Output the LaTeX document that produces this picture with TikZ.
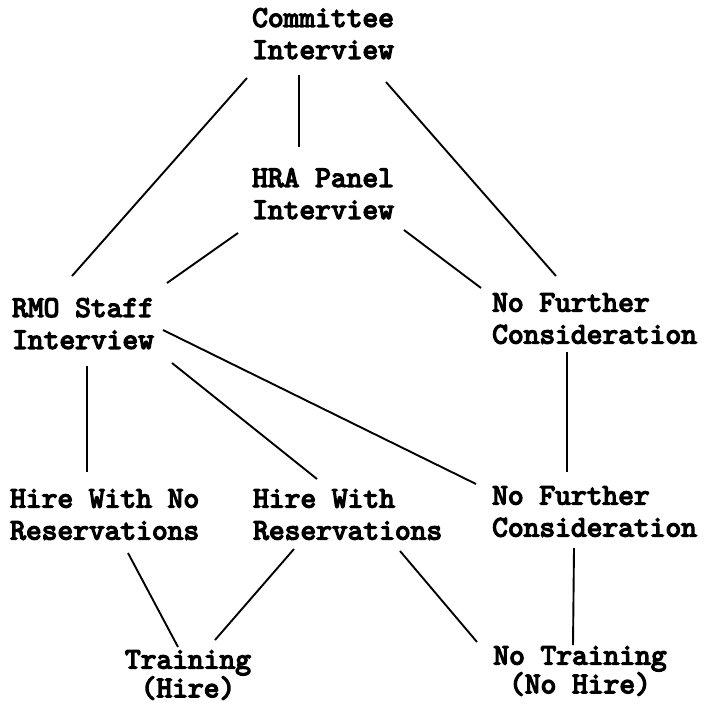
\documentclass[tikz,border=0pt]{standalone}
\usepackage{fontspec}
\usepackage{tikz}
\newfontfamily\typer{lmmono10-regular.otf}[FakeBold=4.5]

\begin{document}
\begin{tikzpicture}[
        x=1pt, y=-1pt,
        every node/.style={inner sep=0pt, font=\fontsize{30}{32}\selectfont\typer},
        stage/.style={anchor=north west, align=left},
        result/.style={anchor=north, align=center, font=\fontsize{30}{26}\selectfont\typer},
        link/.style={line width=1.9pt}
    ]
        \useasboundingbox (0,0) rectangle (707,712);

        \node[stage] (cmte) at (252,8) {Committee\\Interview};
        \node[stage] (hra) at (252,168) {HRA Panel\\Interview};
        \node[stage] (rmo) at (12,298) {RMO Staff\\Interview};
        \node[stage] (nfc1) at (492,293) {No Further\\Consideration};
        \node[stage] (hwn) at (10,489) {Hire With No\\Reservations};
        \node[stage] (hwr) at (253,489) {Hire With\\Reservations};
        \node[stage] (nfc2) at (492,486) {No Further\\Consideration};
        \node[result] (train) at (188,650) {Training\\(Hire)};
        \node[result] (notrain) at (580,646) {No Training\\(No Hire)};

        \draw[link] ([xshift=-5pt,yshift=-70pt]cmte.north west) -- ([xshift=60pt,yshift=22pt]rmo.north west);
        \draw[link] ([xshift=47pt,yshift=-67pt]cmte.north west) -- ([xshift=47pt,yshift=21pt]hra.north west);
        \draw[link] ([xshift=134pt,yshift=-74pt]cmte.north west) -- ([xshift=64pt,yshift=17pt]nfc1.north west);
        \draw[link] ([xshift=-14pt,yshift=-65pt]hra.north west) -- ([xshift=155pt,yshift=15pt]rmo.north west);
        \draw[link] ([xshift=152pt,yshift=-62pt]hra.north west) -- ([xshift=-11pt,yshift=5pt]nfc1.north west);
        \draw[link] ([xshift=75pt,yshift=-68pt]rmo.north west) -- ([xshift=77pt,yshift=17pt]hwn.north west);
        \draw[link] ([xshift=160pt,yshift=-65pt]rmo.north west) -- ([xshift=64pt,yshift=10pt]hwr.north west);
        \draw[link] ([xshift=151pt,yshift=-32pt]rmo.north west) -- ([xshift=-16pt,yshift=2pt]nfc2.north west);
        \draw[link] ([xshift=75pt,yshift=-59pt]nfc1.north west) -- ([xshift=75pt,yshift=14pt]nfc2.north west);
        \draw[link] ([xshift=118pt,yshift=-64pt]hwn.north west) -- ([xshift=-10pt,yshift=3pt]train.north);
        \draw[link] ([xshift=41pt,yshift=-60pt]hwr.north west) -- ([xshift=27pt,yshift=10pt]train.north);
        \draw[link] ([xshift=147pt,yshift=-62pt]hwr.north west) -- ([xshift=-103pt,yshift=4pt]notrain.north);
        \draw[link] ([xshift=82pt,yshift=-62pt]nfc2.north west) -- ([xshift=-7pt,yshift=1pt]notrain.north);
    \end{tikzpicture}
\end{document}
